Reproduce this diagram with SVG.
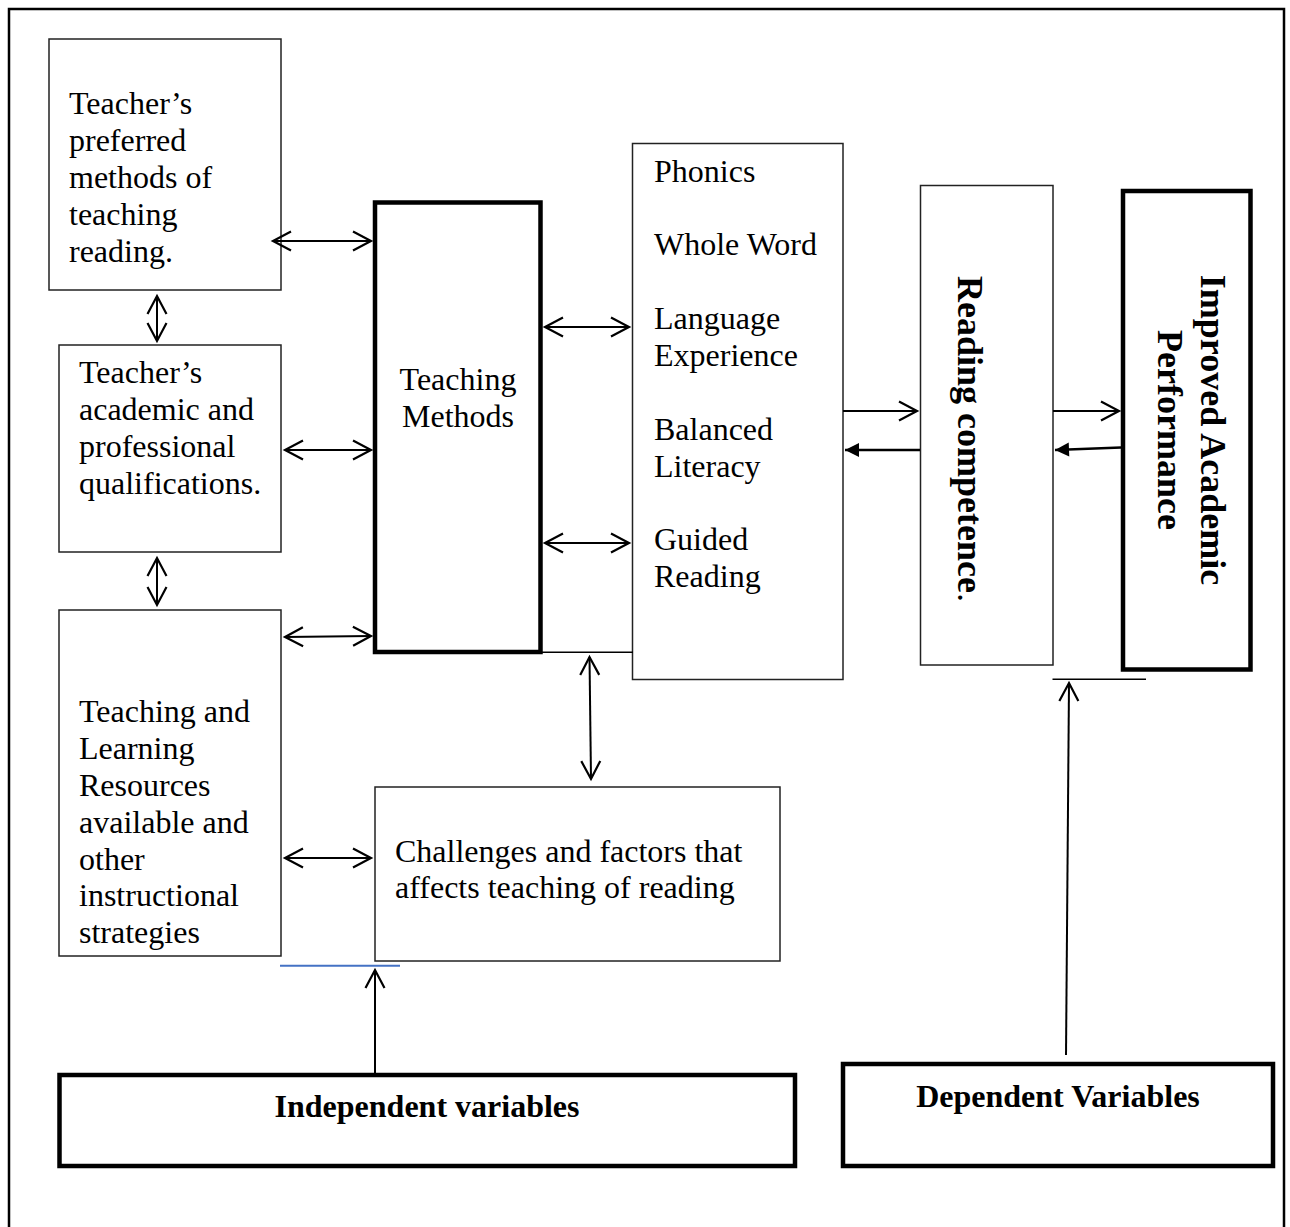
<svg xmlns="http://www.w3.org/2000/svg" width="1290" height="1227" viewBox="0 0 1290 1227">
<style>
.t{font-family:"Liberation Serif","Times New Roman",serif;font-size:32px;fill:#000}
.b{font-family:"Liberation Serif","Times New Roman",serif;font-size:32px;font-weight:bold;fill:#000}
.r{font-family:"Liberation Serif","Times New Roman",serif;font-size:36px;font-weight:bold;fill:#000}
.thin{fill:#fff;stroke:#222;stroke-width:1.5}
.thick{fill:#fff;stroke:#000;stroke-width:4.5}
.ln{fill:none;stroke:#000;stroke-width:2}
</style>
<defs>
<marker id="open" markerUnits="userSpaceOnUse" markerWidth="24" markerHeight="24" viewBox="-20 -12 24 24" refX="0" refY="0" orient="auto-start-reverse">
<path d="M-18,-9.5 L0,0 L-18,9.5" fill="none" stroke="#000" stroke-width="2.2"/>
</marker>
<marker id="fill" markerUnits="userSpaceOnUse" markerWidth="20" markerHeight="20" viewBox="-16 -10 20 20" refX="0" refY="0" orient="auto">
<path d="M-14,-7 L0,0 L-14,7 Z" fill="#000"/>
</marker>
</defs>
<rect width="1290" height="1227" fill="#fff"/>
<path d="M9,1227 V9 H1284 V1227" fill="none" stroke="#000" stroke-width="2.5"/>

<g id="box-preferred">
<rect class="thin" x="49" y="39" width="232" height="251"/>
<text class="t" x="69" y="114">Teacher’s</text>
<text class="t" x="69" y="151">preferred</text>
<text class="t" x="69" y="188">methods of</text>
<text class="t" x="69" y="225">teaching</text>
<text class="t" x="69" y="262">reading.</text>
</g>
<g id="box-qualifications">
<rect class="thin" x="59" y="345" width="222" height="207"/>
<text class="t" x="79" y="383">Teacher’s</text>
<text class="t" x="79" y="420">academic and</text>
<text class="t" x="79" y="457">professional</text>
<text class="t" x="79" y="494">qualifications.</text>
</g>
<g id="box-resources">
<rect class="thin" x="59" y="610" width="222" height="346"/>
<text class="t" x="79" y="722">Teaching and</text>
<text class="t" x="79" y="759">Learning</text>
<text class="t" x="79" y="796">Resources</text>
<text class="t" x="79" y="833">available and</text>
<text class="t" x="79" y="870">other</text>
<text class="t" x="79" y="906">instructional</text>
<text class="t" x="79" y="943">strategies</text>
</g>
<g id="box-teaching-methods">
<rect class="thick" x="375" y="202.5" width="165.5" height="449.5" stroke-width="4"/>
<text class="t" x="458" y="390" text-anchor="middle">Teaching</text>
<text class="t" x="458" y="427" text-anchor="middle">Methods</text>
</g>
<g id="box-methods-list">
<rect class="thin" x="632.5" y="143.5" width="210.5" height="536"/>
<text class="t" x="654" y="182">Phonics</text>
<text class="t" x="654" y="255">Whole Word</text>
<text class="t" x="654" y="329">Language</text>
<text class="t" x="654" y="366">Experience</text>
<text class="t" x="654" y="440">Balanced</text>
<text class="t" x="654" y="477">Literacy</text>
<text class="t" x="654" y="550">Guided</text>
<text class="t" x="654" y="587">Reading</text>
</g>
<g id="box-challenges">
<rect class="thin" x="375" y="787" width="405" height="174"/>
<text class="t" x="395" y="862">Challenges and factors that</text>
<text class="t" x="395" y="898">affects teaching of reading</text>
</g>
<g id="box-reading-competence">
<rect class="thin" x="920.5" y="185.5" width="132.5" height="479.5"/>
<text class="r" transform="translate(958,439) rotate(90)" text-anchor="middle">Reading competence<tspan font-weight="normal">.</tspan></text>
</g>
<g id="box-improved">
<rect class="thick" x="1123" y="191" width="127.5" height="478.5"/>
<text class="r" transform="translate(1201,430) rotate(90)" text-anchor="middle">Improved Academic<tspan x="0" dy="43">Performance</tspan></text>
</g>
<g id="box-independent">
<rect class="thick" x="59.5" y="1075" width="735.5" height="91" stroke-width="4"/>
<text class="b" x="427" y="1117" text-anchor="middle">Independent variables</text>
</g>
<g id="box-dependent">
<rect class="thick" x="843" y="1064" width="430" height="102" stroke-width="4"/>
<text class="b" x="1058" y="1107" text-anchor="middle">Dependent Variables</text>
</g>

<g id="connectors">
<line class="ln" x1="273" y1="241" x2="371" y2="241" marker-start="url(#open)" marker-end="url(#open)"/>
<line class="ln" x1="157" y1="296" x2="157" y2="341" marker-start="url(#open)" marker-end="url(#open)"/>
<line class="ln" x1="285" y1="450" x2="371" y2="450" marker-start="url(#open)" marker-end="url(#open)"/>
<line class="ln" x1="157" y1="558" x2="157" y2="605" marker-start="url(#open)" marker-end="url(#open)"/>
<line class="ln" x1="285" y1="637" x2="371" y2="636" marker-start="url(#open)" marker-end="url(#open)"/>
<line class="ln" x1="285" y1="858" x2="371" y2="858" marker-start="url(#open)" marker-end="url(#open)"/>
<line class="ln" x1="545" y1="327" x2="629" y2="327" marker-start="url(#open)" marker-end="url(#open)"/>
<line class="ln" x1="545" y1="543" x2="629" y2="543" marker-start="url(#open)" marker-end="url(#open)"/>
<line x1="540" y1="652.3" x2="633" y2="652.3" stroke="#000" stroke-width="1.5"/>
<line class="ln" x1="589.5" y1="657" x2="591" y2="779" marker-start="url(#open)" marker-end="url(#open)"/>
<line x1="843" y1="411" x2="917" y2="411" stroke="#000" stroke-width="1.8" marker-end="url(#open)"/>
<line x1="920" y1="450" x2="845" y2="450" stroke="#000" stroke-width="2.5" marker-end="url(#fill)"/>
<line x1="1053" y1="411" x2="1119" y2="411" stroke="#000" stroke-width="1.8" marker-end="url(#open)"/>
<line x1="1121" y1="447.5" x2="1055" y2="450" stroke="#000" stroke-width="2.5" marker-end="url(#fill)"/>
<line x1="280" y1="965.7" x2="400" y2="965.7" stroke="#4472C4" stroke-width="2"/>
<line class="ln" x1="375" y1="1074" x2="375" y2="970" marker-end="url(#open)"/>
<line x1="1052.5" y1="679.3" x2="1146" y2="679.3" stroke="#000" stroke-width="1.5"/>
<line class="ln" x1="1066" y1="1055" x2="1069" y2="683" marker-end="url(#open)"/>
</g>
</svg>
